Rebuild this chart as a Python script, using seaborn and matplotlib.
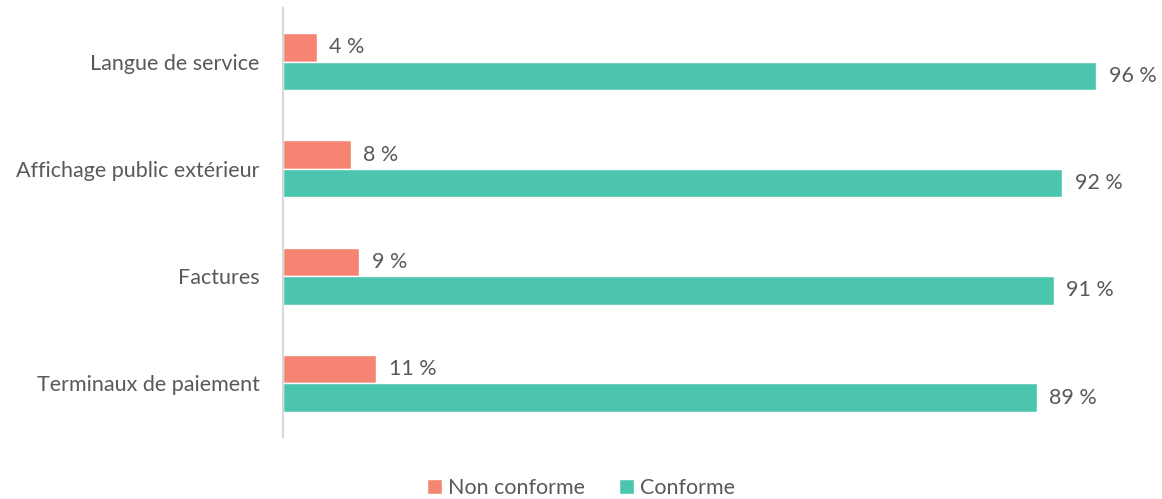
import matplotlib
matplotlib.use("Agg")
import matplotlib.pyplot as plt
import seaborn as sns
import pandas as pd

categories = ["Langue de service", "Affichage public extérieur", "Factures", "Terminaux de paiement"]
non_conforme = [4, 8, 9, 11]
conforme = [96, 92, 91, 89]
series = ["Non conforme", "Conforme"]
colors = ["#F58472", "#4CC5AF"]

df = pd.DataFrame({
    "cat": categories * 2,
    "val": non_conforme + conforme,
    "serie": [series[0]] * len(categories) + [series[1]] * len(categories),
})

sns.set_theme(style="white")
plt.rcParams["font.family"] = ["Lato", "DejaVu Sans"]
txt = "#595959"
fs = 15.5

fig = plt.figure(figsize=(11.62, 4.99), dpi=100)
ax = fig.add_axes([283 / 1162, 1 - 437 / 499, (1160 - 283) / 1162, 429 / 499])
sns.barplot(data=df, y="cat", x="val", hue="serie", order=categories,
            hue_order=series, palette=colors, orient="h", width=0.53,
            saturation=1, ax=ax, legend=True)
ax.set_xlim(0, (1160 - 283) / 8.47)
for c in ax.containers:
    ax.bar_label(c, labels=[f"{v:.0f} %" for v in c.datavalues], padding=9,
                 fontsize=fs, color=txt)
ax.set_xlabel("")
ax.set_ylabel("")
ax.set_xticks([])
ax.tick_params(axis="y", length=0, pad=17, labelsize=fs, labelcolor=txt)
for s in ["top", "right", "bottom"]:
    ax.spines[s].set_visible(False)
ax.spines["left"].set_color("#D9D9D9")
ax.spines["left"].set_linewidth(1.5)

h, l = ax.get_legend_handles_labels()
ax.legend_.remove()
fig.legend(h, l, loc="center", bbox_to_anchor=(581 / 1162, 1 - 488 / 499), ncol=2,
           frameon=False, fontsize=fs, labelcolor=txt, handlelength=0.7,
           handleheight=0.7, handletextpad=0.25, columnspacing=1.6)

fig.savefig("out.png", dpi=100)
